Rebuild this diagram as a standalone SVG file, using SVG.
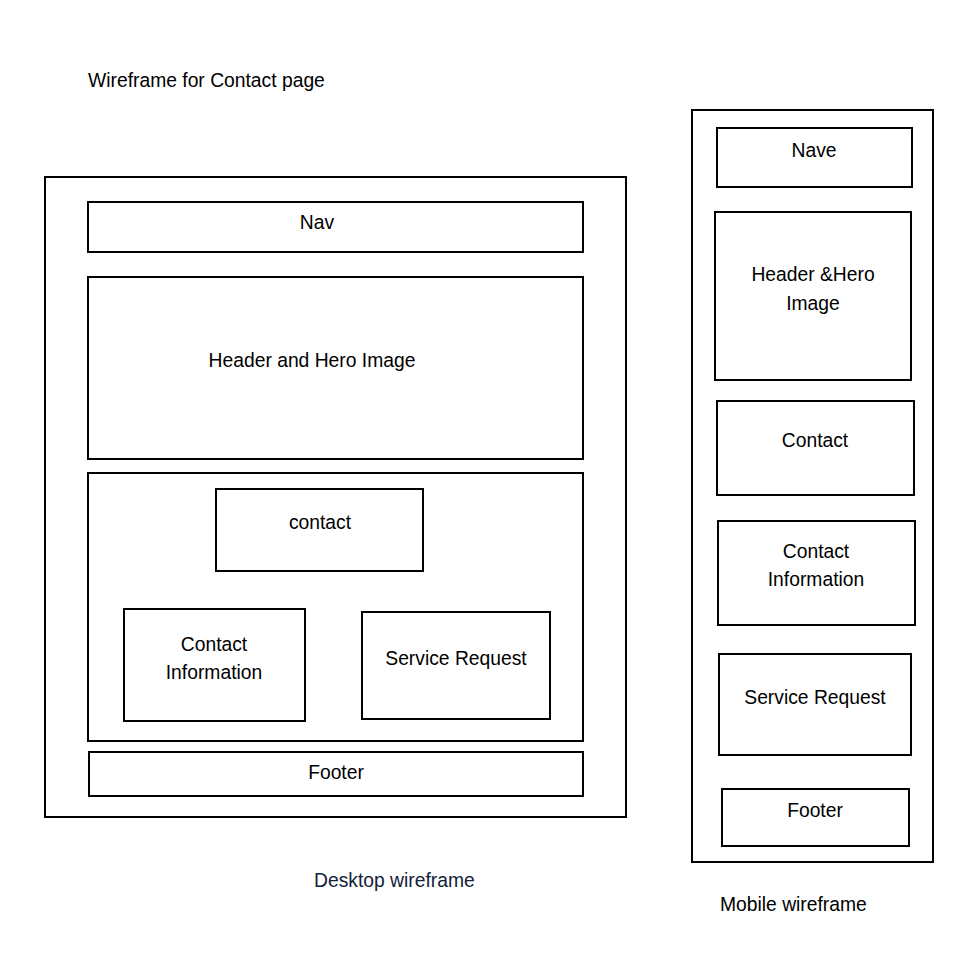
<svg xmlns="http://www.w3.org/2000/svg" width="977" height="959" viewBox="0 0 977 959">
<style>
rect.b{fill:#fff;stroke:#000;stroke-width:2}
text{font-family:"Liberation Sans","Open Sans",sans-serif;font-size:19.3px;fill:#000}
.c{text-anchor:middle}
.n{fill:#13213a}
</style>
<rect width="977" height="959" fill="#fff"/>
<text x="88" y="87">Wireframe for Contact page</text>
<g id="desktop">
<rect class="b" x="45" y="177" width="581" height="640"/>
</g>
<g id="nav"><rect class="b" x="88" y="202" width="495" height="50"/><text class="c" x="317" y="229">Nav</text></g>
<g id="header"><rect class="b" x="88" y="277" width="495" height="182"/><text class="c" x="312" y="367">Header and Hero Image</text></g>
<g id="container"><rect class="b" x="88" y="473" width="495" height="268"/></g>
<g id="contact"><rect class="b" x="216" y="489" width="207" height="82"/><text class="c" x="320" y="529">contact</text></g>
<g id="contact-info"><rect class="b" x="124" y="609" width="181" height="112"/><text class="c" x="214" y="651">Contact</text><text class="c" x="214" y="679">Information</text></g>
<g id="service"><rect class="b" x="362" y="612" width="188" height="107"/><text class="c" x="456" y="665">Service Request</text></g>
<g id="footer"><rect class="b" x="89" y="752" width="494" height="44"/><text class="c" x="336" y="779">Footer</text></g>
<text class="n" x="314" y="887">Desktop wireframe</text>
<g id="mobile"><rect class="b" x="692" y="110" width="241" height="752"/></g>
<g id="m-nav"><rect class="b" x="717" y="128" width="195" height="59"/><text class="c" x="814" y="157">Nave</text></g>
<g id="m-header"><rect class="b" x="715" y="212" width="196" height="168"/><text class="c" x="813" y="281">Header &amp;Hero</text><text class="c" x="813" y="310">Image</text></g>
<g id="m-contact"><rect class="b" x="717" y="401" width="197" height="94"/><text class="c" x="815" y="447">Contact</text></g>
<g id="m-contact-info"><rect class="b" x="718" y="521" width="197" height="104"/><text class="c" x="816" y="558">Contact</text><text class="c" x="816" y="586">Information</text></g>
<g id="m-service"><rect class="b" x="719" y="654" width="192" height="101"/><text class="c" x="815" y="704">Service Request</text></g>
<g id="m-footer"><rect class="b" x="722" y="789" width="187" height="57"/><text class="c" x="815" y="817">Footer</text></g>
<text x="720" y="911">Mobile wireframe</text>
<g id="connectors"></g>
</svg>
